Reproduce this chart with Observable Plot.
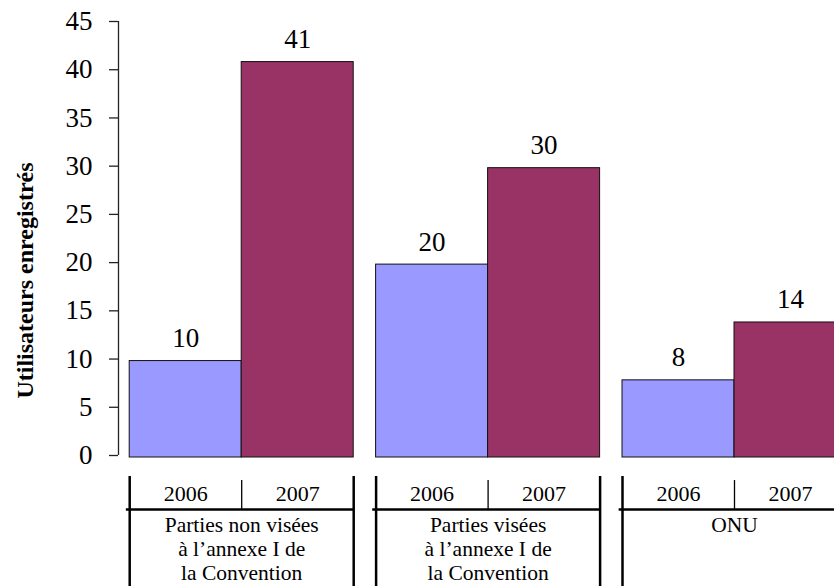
<!DOCTYPE html>
<html>
<head>
<meta charset="utf-8">
<script src="https://cdn.jsdelivr.net/npm/d3@7"></script>
<script src="https://cdn.jsdelivr.net/npm/@observablehq/plot@0.6"></script>
<style>
  html, body { margin: 0; padding: 0; background: #fff; overflow: hidden; }
  #chart { width: 834px; height: 586px; overflow: hidden; }
  #chart svg { display: block; }
</style>
</head>
<body>
<div id="chart"></div>
<script>
// ---- data ----
const years = ["2006", "2007"];
const groups = [
  "Parties non visées\nà l’annexe I de\nla Convention",
  "Parties visées\nà l’annexe I de\nla Convention",
  "ONU"
];
const values2006 = [10, 20, 8];
const values2007 = [41, 30, 14];
const yTicks = [0, 5, 10, 15, 20, 25, 30, 35, 40, 45];
const yTitle = "Utilisateurs enregistrés";
const colors = ["#9999FF", "#993366"];

// ---- layout ----
const STEP = 2.2;          // group step in bar-width units (2 bars + gap)
const W = 834;
const font = "'Liberation Serif', 'Times New Roman', Times, serif";
const xScale = {domain: [-0.1, 6.4], range: [118, 846], axis: null};

const rows = [];
groups.forEach((g, gi) => {
  [values2006, values2007].forEach((vals, k) => {
    rows.push({group: g, gi, year: years[k], value: vals[gi], x1: gi * STEP + k, x2: gi * STEP + k + 1});
  });
});
const groupRows = groups.map((g, gi) => ({label: g, x1: gi * STEP, x2: gi * STEP + 2}));

const chart = Plot.plot({
  width: W,
  height: 470,
  marginTop: 23,
  marginBottom: 13,
  marginLeft: 118,
  marginRight: 0,
  style: {fontFamily: font, background: "white", color: "black", overflow: "hidden"},
  x: xScale,
  y: {domain: [0, 45]},
  color: {domain: years, range: colors},
  marks: [
    Plot.rect(rows, {x1: "x1", x2: "x2", y1: 0, y2: "value", fill: "year", stroke: "#111", strokeWidth: 1}),
    Plot.text(rows, {x: d => (d.x1 + d.x2) / 2, y: "value", text: d => String(d.value),
      lineAnchor: "bottom", dy: -14, fontSize: 27, fill: "black"}),
    Plot.ruleX([xScale.domain[0]], {y1: 0, y2: 45, dy: -2, stroke: "#222", strokeWidth: 1.3}),
    Plot.axisY({ticks: yTicks, tickSize: 9, tickPadding: 17, fontSize: 27, dy: -2, label: null,
      stroke: "#222", strokeWidth: 1.3}),
    Plot.text([yTitle], {frameAnchor: "left", rotate: -90, dx: -93, dy: 40, fontWeight: "bold",
      fontSize: 24, textAnchor: "middle", lineAnchor: "middle", fill: "black"})
  ]
});

const edges = groupRows.flatMap(g => [g.x1, g.x2]);
const mids = groupRows.map(g => (g.x1 + g.x2) / 2);

const table = Plot.plot({
  width: W,
  height: 116,
  marginTop: 6,
  marginBottom: 0,
  marginLeft: 118,
  marginRight: 0,
  style: {fontFamily: font, background: "white", color: "black", overflow: "hidden"},
  x: xScale,
  y: {domain: [0, 4.6], range: [6, 116], axis: null},
  marks: [
    Plot.ruleX(edges, {x: d => d, stroke: "black", strokeWidth: 2.5}),
    Plot.ruleX(mids, {x: d => d, y1: 0.17, y2: 1.38, stroke: "black", strokeWidth: 1.3}),
    Plot.ruleY(groupRows, {y: 1.38, x1: d => d.x1 - 0.03, x2: d => d.x2, stroke: "black", strokeWidth: 2.5}),
    Plot.text(rows, {x: d => (d.x1 + d.x2) / 2, y: 0.75, text: "year", fontSize: 22, lineAnchor: "middle", fill: "black"}),
    Plot.text(groupRows, {x: d => (d.x1 + d.x2) / 2, y: 1.38, text: "label", lineAnchor: "top",
      dy: 5, fontSize: 21.5, lineHeight: 1.12, fill: "black"})
  ]
});

const el = document.getElementById("chart");
el.appendChild(chart);
el.appendChild(table);
</script>
</body>
</html>
